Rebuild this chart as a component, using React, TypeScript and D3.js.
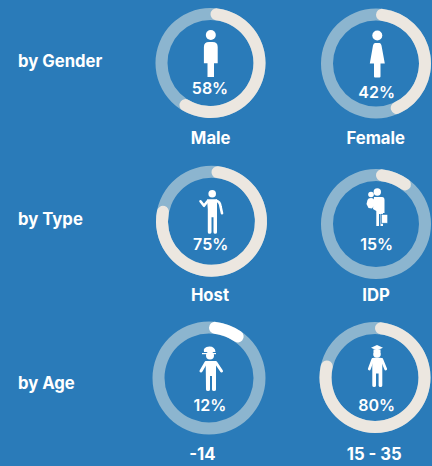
// App.tsx - profile donuts (gender, type, age)
import React, { useEffect, useRef } from "react";
import * as d3 from "d3";

const categories = ["Male", "Female", "Host", "IDP", "-14", "15 - 35"];
const percentLabels = ["58%", "42%", "75%", "15%", "12%", "80%"];
// how far each ring is actually filled in the picture, not always the same as its label
const ringFill = [60.5, 45, 80, 12, 11.5, 80.5];
const rowLabels = ["by Gender", "by Type", "by Age"];
const fillColors = ["#ece7e0", "#ece7e0", "#ece7e0", "#ece7e0", "#ffffff", "#ece7e0"];

// layout, ring centres and text anchors
const ringX = [210.5, 376, 211.5, 376, 209, 375];
const ringY = [63, 63.5, 221.3, 224, 378, 377.5];
const ringOuter = [55, 55, 55.5, 55, 56.5, 55.5];
const percentX = [210, 376.7, 210.7, 376.7, 210, 376.7];
const percentY = [94, 98, 249.5, 250, 410.5, 410.5];
const nameX = [210.7, 375.7, 210, 376, 202.3, 374.3];
const nameY = [143.5, 143.5, 300.5, 300.5, 459.5, 459.5];
const rowY = [66.5, 225, 389];

const WHITE = "#ffffff";
const BG = "#2a7bb9";

type G = d3.Selection<SVGGElement, unknown, null, undefined>;

const limb = (g: G, d: string, w: number) =>
  g.append("path").attr("d", d).attr("fill", "none").attr("stroke", WHITE)
    .attr("stroke-width", w).attr("stroke-linecap", "round").attr("stroke-linejoin", "round");
const solid = (g: G, d: string) => g.append("path").attr("d", d).attr("fill", WHITE);
const head = (g: G, x: number, y: number, r: number) =>
  g.append("circle").attr("cx", x).attr("cy", y).attr("r", r).attr("fill", WHITE);

// one pictogram per ring, drawn around the ring centre
const icons: ((g: G) => void)[] = [
  (g) => {
    head(g, 0.3, -28, 5);
    solid(g, "M-6.6,-16 Q-6.6,-21 -1.5,-21 L2.1,-21 Q7.2,-21 7.2,-16 L7.2,0.3 L3.5,0.3 L3.5,14 L-3,14 L-3,0.3 L-6.6,0.3 Z");
  },
  (g) => {
    head(g, 1.3, -28, 5);
    solid(g, "M-1,-20.5 L3.6,-20.5 Q5,-20.5 5.5,-18 L8.8,0 L4.5,0 L4.5,13 Q4.5,14 3.5,14 L-1,14 Q-2,14 -2,13 L-2,0 L-6.2,0 L-3,-18 Q-2.5,-20.5 -1,-20.5 Z");
  },
  (g) => {
    head(g, 0.7, -27.5, 3.8);
    solid(g, "M-4.5,-22 L5.5,-22 L5.5,-6 L5.5,11 Q5.5,12.5 3.8,12.5 Q2,12.5 2,11 L2,-4 L0,-4 L0,11 Q0,12.5 -2,12.5 Q-3.7,12.5 -3.7,11 L-3.7,-12 Z");
    limb(g, "M-4,-20 L-7.5,-15.5 L-11,-20", 2.6);
    limb(g, "M5,-20.5 Q8.5,-19.5 9,-15 L10.5,-8", 2.6);
  },
  (g) => {
    head(g, 1.3, -32, 3.7);
    head(g, -5, -29.5, 2.8);
    solid(g, "M-2,-27 L6,-27 Q8.5,-27 8.5,-24 L8.5,-11 L7,-11 L7,2 L4.5,2 L4.5,-10 L3,-10 L3,2 L0.3,2 L0.3,-13 L-3,-15 Z");
    solid(g, "M-8.5,-24 Q-8,-26 -5,-26 Q-2,-26 -1.5,-23 L-2,-18 L-4,-15.5 L-7.5,-16 L-9.5,-20 Z");
    g.append("rect").attr("x", 5.3).attr("y", -9.7).attr("width", 6.5).attr("height", 9)
      .attr("fill", WHITE).attr("stroke", BG).attr("stroke-width", 0.8);
  },
  (g) => {
    solid(g, "M-5,-26 Q-6.5,-31 0.5,-31.5 Q6,-31.5 6.5,-26 Z");
    solid(g, "M-7,-25 L7,-25 L7,-23.8 L-7,-23.8 Z");
    head(g, 1, -22.5, 4);
    solid(g, "M-3.3,-17 L7,-17 L7,-3 L7,11.5 Q7,13 5,13 Q3,13 3,11.5 L3,-2 L1,-2 L1,11.5 Q1,13 -1,13 Q-3,13 -3,11.5 Z");
    limb(g, "M-3,-15.5 L-8,-7", 3);
    limb(g, "M6.8,-15.5 L12.5,-7", 3);
  },
  (g) => {
    solid(g, "M2,-32.5 L8,-29.7 L2,-27 L-4,-29.7 Z");
    solid(g, "M-1.5,-28 L5.5,-28 L5.5,-25.5 L-1.5,-25.5 Z");
    head(g, 2, -23.5, 3.8);
    solid(g, "M-2.7,-19 Q-2.7,-19.8 -1,-19.8 L5,-19.8 Q7.3,-19.8 7.3,-19 L7.3,-5 L7.3,8 Q7.3,9.5 5.5,9.5 Q3.6,9.5 3.6,8 L3.6,-4 L1,-4 L1,8 Q1,9.5 -0.8,9.5 Q-2.7,9.5 -2.7,8 Z");
    limb(g, "M-2.2,-18 L-5.7,-8.5", 2.8);
    limb(g, "M6.8,-18 L10.7,-8.5", 2.8);
  },
];

const App = () => {
  const ref = useRef<SVGSVGElement>(null);

  useEffect(() => {
    const svg = d3.select(ref.current);
    svg.selectAll("*").remove();

    const angle = d3.scaleLinear().domain([0, 100]).range([0, 2 * Math.PI]);
    const font = "Inter, 'Open Sans', sans-serif";

    svg.append("rect").attr("width", 432).attr("height", 466).attr("fill", BG);

    // Row headings
    svg.selectAll("text.row").data(rowLabels).enter().append("text")
      .attr("class", "row")
      .attr("x", 18)
      .attr("y", (_, i) => rowY[i])
      .attr("font-family", font).attr("font-size", 16.7).attr("font-weight", 700)
      .attr("fill", WHITE)
      .text((d) => d);

    categories.forEach((name, i) => {
      const g = svg.append("g").attr("transform", `translate(${ringX[i]},${ringY[i]})`) as unknown as G;
      const outerRadius = ringOuter[i];
      const innerRadius = outerRadius - 12;

      // Track
      g.append("path")
        .attr("d", d3.arc()({ innerRadius, outerRadius, startAngle: 0, endAngle: 2 * Math.PI }) as string)
        .attr("fill", "#8cb5cf");

      // Filled part
      g.append("path")
        .attr("d", d3.arc().cornerRadius(6)({
          innerRadius, outerRadius, startAngle: 0, endAngle: angle(ringFill[i]),
        }) as string)
        .attr("fill", fillColors[i]);

      icons[i](g);

      svg.append("text")
        .attr("x", percentX[i]).attr("y", percentY[i])
        .attr("text-anchor", "middle")
        .attr("font-family", font).attr("font-size", 16).attr("font-weight", 600)
        .attr("fill", WHITE)
        .text(percentLabels[i]);

      svg.append("text")
        .attr("x", nameX[i]).attr("y", nameY[i])
        .attr("text-anchor", "middle")
        .attr("font-family", font).attr("font-size", 16.7).attr("font-weight", 700)
        .attr("fill", WHITE)
        .text(name);
    });
  }, []);

  return (
    <svg
      ref={ref}
      width={432}
      height={466}
      style={{ position: "absolute", left: 0, top: 0, display: "block" }}
    />
  );
};

export default App;
